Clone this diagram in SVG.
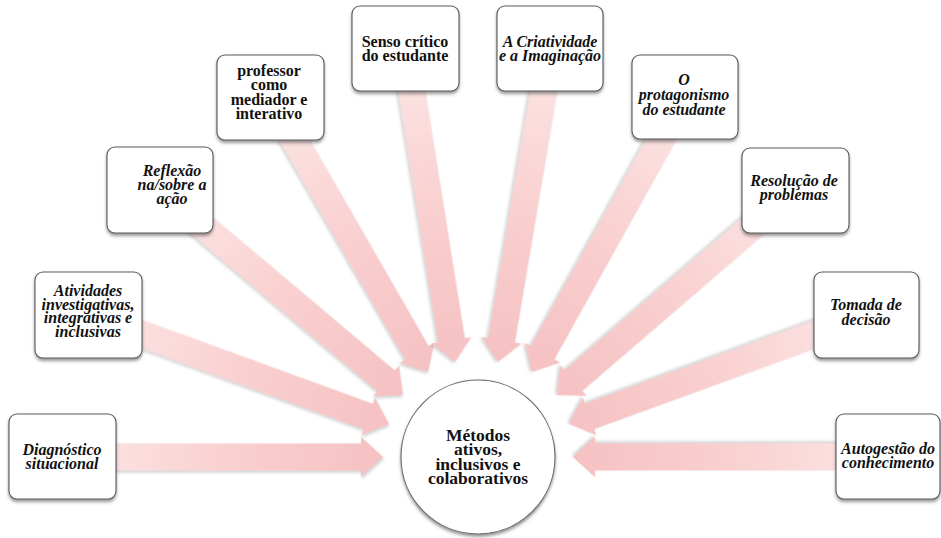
<svg xmlns="http://www.w3.org/2000/svg" width="941" height="538" viewBox="0 0 941 538">
  <defs>
    <linearGradient id="arrowFill" x1="0" y1="0" x2="1" y2="0">
      <stop offset="0" stop-color="#fde8e8"/>
      <stop offset="0.55" stop-color="#f9cfcf"/>
      <stop offset="1" stop-color="#f6c1c2"/>
    </linearGradient>
    <filter id="arrowShadow" x="-10%" y="-30%" width="120%" height="160%">
      <feDropShadow dx="1" dy="2" stdDeviation="1.5" flood-color="#7a7a7a" flood-opacity="0.35"/>
    </filter>
    <filter id="boxShadow" x="-20%" y="-20%" width="140%" height="140%">
      <feDropShadow dx="0" dy="2.5" stdDeviation="1.6" flood-color="#444" flood-opacity="0.55"/>
    </filter>
    <!-- block arrow pointing along +x, tip at origin, length 330 -->
    <path id="blockArrow" d="M -330,-13.5 H -22 V -20 L 0,0 L -22,20 V 13.5 H -330 Z"/>
  </defs>
  <style>
    .arrow { fill: url(#arrowFill); filter: url(#arrowShadow); }
    .box { fill: #ffffff; stroke: #5a5a5a; stroke-width: 1.1; filter: url(#boxShadow); }
    .hub { fill: #ffffff; stroke: #6a6a6a; stroke-width: 1.1; filter: url(#boxShadow); }
    .lbl { fill: #111111; text-anchor: middle; font-weight: bold; }
  </style>
  <rect width="941" height="538" fill="#ffffff"/>

  <!-- connectors: pink block arrows converging on the hub -->
  <g id="connectors">
    <use href="#blockArrow" class="arrow" transform="translate(383,457) rotate(0)"/>
    <use href="#blockArrow" class="arrow" transform="translate(389,424) rotate(20)"/>
    <use href="#blockArrow" class="arrow" transform="translate(403,395) rotate(40.15)"/>
    <use href="#blockArrow" class="arrow" transform="translate(428,372) rotate(60.1)"/>
    <use href="#blockArrow" class="arrow" transform="translate(455,362) rotate(80.95)"/>
    <use href="#blockArrow" class="arrow" transform="translate(498,362) rotate(99.6)"/>
    <use href="#blockArrow" class="arrow" transform="translate(532,372) rotate(119.1)"/>
    <use href="#blockArrow" class="arrow" transform="translate(557,395) rotate(139.3)"/>
    <use href="#blockArrow" class="arrow" transform="translate(569,424) rotate(160)"/>
    <use href="#blockArrow" class="arrow" transform="translate(573,457) rotate(180)"/>
  </g>

  <g id="diagnostico">
    <rect class="box" x="9" y="414" width="107" height="85" rx="8"/>
    <text class="lbl" font-family="Liberation Serif, DejaVu Serif, serif" font-size="16" font-style="italic" font-weight="bold" x="62" y="455">Diagnóstico<tspan x="62" dy="14">situacional</tspan></text>
  </g>

  <g id="atividades">
    <rect class="box" x="35" y="272" width="107" height="86" rx="8"/>
    <text class="lbl" font-family="Liberation Serif, DejaVu Serif, serif" font-size="16" font-style="italic" font-weight="bold" x="88" y="296">Atividades<tspan x="88" dy="13.5">investigativas,</tspan><tspan x="88" dy="13.5">integrativas e</tspan><tspan x="88" dy="13.5">inclusivas</tspan></text>
  </g>

  <g id="reflexao">
    <rect class="box" x="107" y="147" width="106" height="86" rx="8"/>
    <text class="lbl" font-family="Liberation Serif, DejaVu Serif, serif" font-size="16" font-style="italic" font-weight="bold" x="172" y="176">Reflexão<tspan x="172" dy="14">na/sobre a</tspan><tspan x="172" dy="14">ação</tspan></text>
  </g>

  <g id="professor">
    <rect class="box" x="217" y="55" width="107" height="85" rx="8"/>
    <text class="lbl" font-family="Liberation Serif, DejaVu Serif, serif" font-size="16" font-weight="bold" x="269" y="76">professor<tspan x="269" dy="14">como</tspan><tspan x="269" dy="14.5">mediador e</tspan><tspan x="269" dy="14">interativo</tspan></text>
  </g>

  <g id="senso-critico">
    <rect class="box" x="352" y="6" width="107" height="85" rx="8"/>
    <text class="lbl" font-family="Liberation Serif, DejaVu Serif, serif" font-size="16" font-weight="bold" x="405" y="47">Senso crítico<tspan x="405" dy="14">do estudante</tspan></text>
  </g>

  <g id="criatividade">
    <rect class="box" x="497" y="6" width="106" height="85" rx="8"/>
    <text class="lbl" font-family="Liberation Serif, DejaVu Serif, serif" font-size="16" font-style="italic" font-weight="bold" x="550" y="47">A Criatividade<tspan x="550" dy="14">e a Imaginação</tspan></text>
  </g>

  <g id="protagonismo">
    <rect class="box" x="632" y="55" width="106" height="84" rx="8"/>
    <text class="lbl" font-family="Liberation Serif, DejaVu Serif, serif" font-size="16" font-style="italic" font-weight="bold" x="684" y="85">O<tspan x="684" dy="15">protagonismo</tspan><tspan x="684" dy="15">do estudante</tspan></text>
  </g>

  <g id="resolucao">
    <rect class="box" x="742" y="148" width="107" height="85" rx="8"/>
    <text class="lbl" font-family="Liberation Serif, DejaVu Serif, serif" font-size="16" font-style="italic" font-weight="bold" x="794" y="186">Resolução de<tspan x="794" dy="14">problemas</tspan></text>
  </g>

  <g id="tomada">
    <rect class="box" x="814" y="272" width="105" height="86" rx="8"/>
    <text class="lbl" font-family="Liberation Serif, DejaVu Serif, serif" font-size="16" font-style="italic" font-weight="bold" x="866" y="310">Tomada de<tspan x="866" dy="15">decisão</tspan></text>
  </g>

  <g id="autogestao">
    <rect class="box" x="836" y="414" width="104" height="85" rx="8"/>
    <text class="lbl" font-family="Liberation Serif, DejaVu Serif, serif" font-size="16" font-style="italic" font-weight="bold" x="888" y="454">Autogestão do<tspan x="888" dy="14">conhecimento</tspan></text>
  </g>

  <g id="metodos">
    <circle class="hub" cx="478" cy="457" r="77"/>
    <text class="lbl" font-family="Liberation Serif, DejaVu Serif, serif" font-size="17.5" font-weight="bold" x="478" y="441">Métodos<tspan x="478" dy="14.3">ativos,</tspan><tspan x="478" dy="14.3">inclusivos e</tspan><tspan x="478" dy="14.3">colaborativos</tspan></text>
  </g>
</svg>
